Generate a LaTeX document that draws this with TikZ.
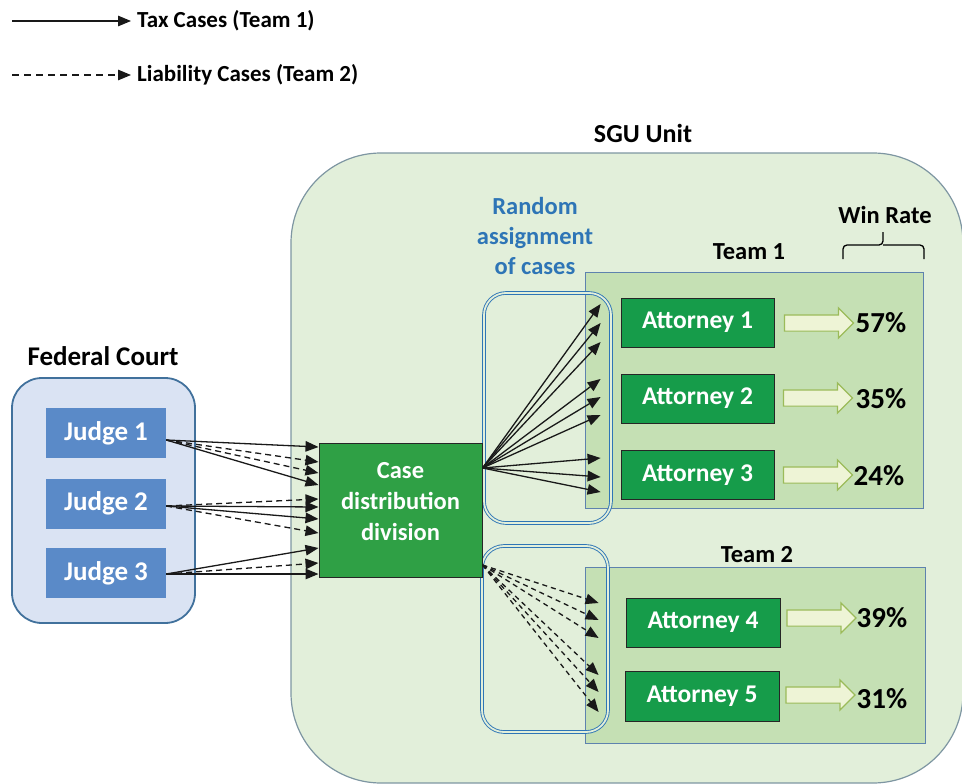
\documentclass[tikz,border=0pt]{standalone}
\usepackage{fontspec}
\setmainfont{Carlito}
\usetikzlibrary{arrows.meta,shapes.arrows}
\definecolor{sgufill}{HTML}{E2EFDA}
\definecolor{sguline}{HTML}{7E96A2}
\definecolor{teamfill}{HTML}{C5E0B4}
\definecolor{teamline}{HTML}{5E82AE}
\definecolor{fedfill}{HTML}{DAE3F3}
\definecolor{fedline}{HTML}{41719C}
\definecolor{judgefill}{HTML}{5A8AC8}
\definecolor{casefill}{HTML}{2FA045}
\definecolor{attyfill}{HTML}{169C4A}
\definecolor{randblue}{HTML}{2E75B6}
\definecolor{arrfill}{HTML}{EEF4D6}
\definecolor{arrline}{HTML}{9BBB59}
\newcommand{\fsz}[1]{\fontsize{#1}{#1}\selectfont\bfseries}
\tikzset{
  judgebox/.style={fill=judgefill, minimum width=120pt, minimum height=50pt, inner sep=0pt, text=white, font=\fsz{27}},
  attybox/.style={fill=attyfill, draw=black!85, line width=1pt, minimum width=153pt, minimum height=49pt, inner sep=0pt, text=white, font=\fsz{25.5}},
  blockarr/.style={single arrow, draw=arrline, fill=arrfill, line width=1.2pt, minimum height=69pt, inner xsep=0pt, inner ysep=7.5pt, single arrow head extend=7pt},
  pct/.style={font=\fsz{29}},
  lbl/.style={font=\fsz{24.5}},
  teambox/.style={fill=teamfill, draw=teamline, line width=0.8pt, inner sep=0pt},
  randbox/.style={draw=randblue, double=sgufill, double distance=1.8pt, line width=0.9pt, rounded corners=22pt, inner sep=0pt},
  tax/.style={-{Triangle[length=13pt,width=10.5pt]}, line width=1.3pt, black!90},
  liab/.style={tax, dash pattern=on 6pt off 4pt},
  liabb/.style={tax, dash pattern=on 5pt off 4pt},
}
\begin{document}
\begin{tikzpicture}[x=1pt,y=-1pt]
\useasboundingbox (0,0) rectangle (962,784);
% legend
\node[anchor=west, inner sep=0pt, font=\fsz{23}] (lt) at (137,21) {Tax Cases (Team 1)};
\node[anchor=west, inner sep=0pt, font=\fsz{23}] (ll) at (137,75) {Liability Cases (Team 2)};
\coordinate (lts) at (12,21);
\coordinate (lls) at (12,75);
\draw[tax] (lts) -- ([xshift=-6pt]lt.west);
\draw[tax, dash pattern=on 7pt off 5pt] (lls) -- ([xshift=-6pt]ll.west);
% SGU unit
\node[fill=sgufill, draw=sguline, line width=1.2pt, rounded corners=90pt, minimum width=672pt, minimum height=630pt, inner sep=0pt] (sgu) at (627,468) {};
\node[font=\fsz{26}] (sgut) at (643,133) {SGU Unit};
% federal court
\node[fill=fedfill, draw=fedline, line width=1.8pt, rounded corners=30pt, minimum width=183pt, minimum height=245pt, inner sep=0pt] (fed) at (103.5,500.5) {};
\node[font=\fsz{27}] (fedt) at (103,356) {Federal Court};
\node[judgebox] (j1) at (106,433) {Judge 1};
\node[judgebox] (j2) at (106,503.5) {Judge 2};
\node[judgebox] (j3) at (106,573) {Judge 3};
% teams
\node[teambox, minimum width=338pt, minimum height=236pt] (t1) at (754,390) {};
\node[teambox, minimum width=340pt, minimum height=176pt] (t2) at (755,655) {};
\node[lbl] (t1t) at (749,252) {Team 1};
\node[lbl] (t2t) at (757,555) {Team 2};
% random assignment
\node[randbox, minimum width=127pt, minimum height=230pt] (r1) at (547.5,408) {};
\node[randbox, minimum width=126pt, minimum height=186pt] (r2) at (545,639) {};
\node[lbl, text=randblue, align=center, font=\fontsize{24.5}{30}\selectfont\bfseries] (rt) at (535,236) {Random\\assignment\\of cases};
% case distribution
\node[fill=casefill, draw=black!85, line width=1pt, minimum width=163pt, minimum height=134pt, inner sep=0pt] (cd) at (400.5,510) {};
\node[text=white, align=center, font=\fontsize{24.5}{31}\selectfont\bfseries] (cdt) at (400.5,502) {Case\\distribution\\division};
% attorneys
\node[attybox] (a1) at (697.5,322.5) {Attorney 1};
\node[attybox] (a2) at (697.5,398.5) {Attorney 2};
\node[attybox] (a3) at (697.5,475) {Attorney 3};
\node[attybox, minimum width=154pt] (a4) at (703,622.5) {Attorney 4};
\node[attybox, minimum width=154pt, minimum height=50pt] (a5) at (702,696) {Attorney 5};
% win-rate arrows
\node[blockarr] (b1) at (815,323) {};
\node[blockarr] (b2) at (814,398) {};
\node[blockarr] (b3) at (814,475) {};
\node[blockarr] (b4) at (817.5,618) {};
\node[blockarr] (b5) at (816.5,695) {};
\node[pct] (p1) at (881,323) {57\%};
\node[pct] (p2) at (881,399) {35\%};
\node[pct] (p3) at (879,476) {24\%};
\node[pct] (p4) at (882,618) {39\%};
\node[pct] (p5) at (882,699) {31\%};
% win rate brace
\node[lbl] (wr) at (885,215) {Win Rate};
\draw[line width=1.3pt, rounded corners=4pt] (843,259) |- (883,245) -- (883,232);
\draw[line width=1.3pt, rounded corners=4pt] (883,245) -| (924,259);
% judge -> case distribution
\foreach \dy/\st in {63/tax,48/liab,37/liab,25/tax}
  \draw[\st] ([yshift=-7pt]j1.east) -- ([yshift=\dy pt]cd.west);
\foreach \dy/\st in {11/liab,3/tax,-9/tax,-23/liab}
  \draw[\st] ([yshift=-2.5pt]j2.east) -- ([yshift=\dy pt]cd.west);
\foreach \dy/\st in {-38/tax,-53/liab,-64/tax}
  \draw[\st] ([yshift=-1pt]j3.east) -- ([yshift=\dy pt]cd.west);
% case distribution -> teams
\foreach \dy in {86,67,48,11,-7,-25,-68,-87,-102}
  \draw[tax] ([yshift=42pt]cd.east) -- ([xshift=16pt,yshift=\dy pt]t1.west);
\foreach \dy in {52,35,17,-20,-37,-57}
  \draw[liabb] ([yshift=-55pt]cd.east) -- ([xshift=14pt,yshift=\dy pt]t2.west);
\end{tikzpicture}
\end{document}
